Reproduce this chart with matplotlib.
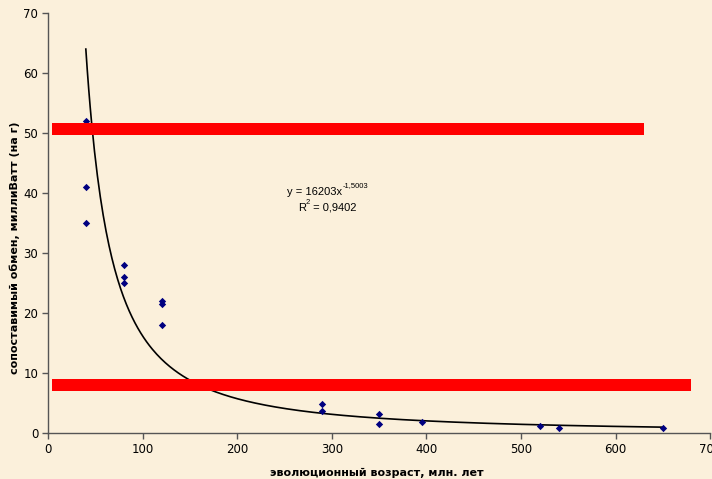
import numpy as np
import matplotlib
matplotlib.use("Agg")
import matplotlib.pyplot as plt
from matplotlib import font_manager

# Evolutionary age (million years) and comparable metabolic rate (mW per g)
age = [40, 40, 40, 80, 80, 80, 120, 120, 120, 290, 290, 350, 350, 395, 520, 540, 650]
rate = [52, 41, 35, 28, 26, 25, 22, 21.5, 18, 4.8, 3.7, 3.2, 1.45, 1.8, 1.15, 0.9, 0.8]

# Power trendline y = a * x^b
fit_a = 16203
fit_b = -1.5003
fit_r2 = 0.9402
fit_range = (40, 650)

# Highlight bands: (x start, x end, y low, y high)
bands = [(4, 630, 49.7, 51.7), (4, 680, 7.05, 9.0)]

x_ticks = [0, 100, 200, 300, 400, 500, 600, 700]
y_ticks = [0, 10, 20, 30, 40, 50, 60, 70]

installed = {f.name for f in font_manager.fontManager.ttflist}
narrow = "Liberation Sans Narrow" if "Liberation Sans Narrow" in installed else "Liberation Sans"

bg = "#FBF0DB"
fig = plt.figure(figsize=(7.12, 4.79), dpi=100, facecolor=bg)
ax = fig.add_axes([0.0674, 0.096, 0.93, 0.877], facecolor=bg)

xs = np.linspace(fit_range[0], fit_range[1], 400)
ax.plot(xs, fit_a * xs ** fit_b, color="black", lw=1.2, zorder=2)

ax.scatter(age, rate, marker="D", s=14, color="#000080", zorder=3, linewidths=0)

for x0, x1, y0, y1 in bands:
    ax.fill_between([x0, x1], y0, y1, color="#FF0000", lw=0, zorder=4)

ax.set_xlim(0, 700)
ax.set_ylim(0, 70)
ax.set_xticks(x_ticks)
ax.set_yticks(y_ticks)
ax.tick_params(axis="both", direction="out", length=4, width=1, color="#555555",
               labelsize=8.5, pad=3)
for s in ("top", "right"):
    ax.spines[s].set_visible(False)
for s in ("left", "bottom"):
    ax.spines[s].set_color("#555555")
    ax.spines[s].set_linewidth(1)

ax.set_xlabel("эволюционный возраст, млн. лет", fontsize=8, fontweight="bold")
ax.xaxis.set_label_coords(0.497, -0.082)
ax.set_ylabel("сопоставимый обмен, миллиВатт (на г)", fontsize=8, fontweight="bold")
ax.yaxis.set_label_coords(-0.043, 0.44)

# Trendline equation and R^2
eq = ax.text(282, 40.2, "y = %dx" % fit_a, family=narrow, fontsize=8,
             ha="center", va="center", zorder=5)
ax.annotate(("%.4f" % fit_b).replace(".", ","), xy=(1, 0.75), xycoords=eq,
            fontsize=5.5, family=narrow, ha="left", va="bottom", zorder=5)
r2 = ax.text(264, 37.5, "R", family=narrow, fontsize=8, ha="left", va="center", zorder=5)
ax.annotate("2", xy=(1, 0.7), xycoords=r2, fontsize=5.5, family=narrow,
            ha="left", va="bottom", zorder=5)
ax.annotate(" = %s" % ("%.4f" % fit_r2).replace(".", ","), xy=(1, 0.5), xycoords=r2,
            xytext=(3, 0), textcoords="offset points",
            fontsize=8, family=narrow, ha="left", va="center", zorder=5)

fig.savefig("out.png", dpi=100, facecolor=bg)
